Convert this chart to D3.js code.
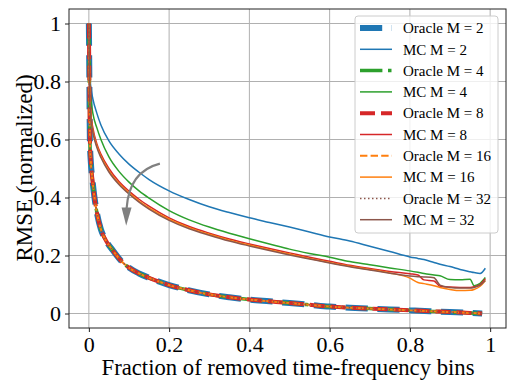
<!DOCTYPE html>
<html><head><meta charset="utf-8">
<script src="https://cdn.jsdelivr.net/npm/d3@7"></script>
<style>body{margin:0;background:#fff}svg{display:block}text{font-family:"Liberation Serif","Times New Roman",serif}</style>
</head><body>
<svg id="c" width="507" height="380"></svg>
<script>
const xTicks = [0, 0.2, 0.4, 0.6, 0.8, 1];
const xTickLabels = ["0", "0.2", "0.4", "0.6", "0.8", "1"];
const yTicks = [0, 0.2, 0.4, 0.6, 0.8, 1];
const yTickLabels = ["0", "0.2", "0.4", "0.6", "0.8", "1"];

const oracleX = [0,0.001,0.0025,0.005,0.009,0.014,0.019,0.03,0.04,0.06,0.08,0.1,0.125,0.15,0.2,0.25,0.3,0.35,0.4,0.45,0.5,0.55,0.6,0.65,0.7,0.75,0.8,0.85,0.9,0.95,0.98];
const oracleY = [1,0.85,0.6,0.52,0.46,0.4,0.355,0.29,0.258,0.217,0.182,0.158,0.138,0.123,0.098,0.08,0.066,0.056,0.048,0.042,0.036,0.03,0.024,0.02,0.017,0.014,0.011,0.008,0.005,0.002,0.0];

const mcX = [0,0.002,0.005,0.01,0.02,0.03,0.05,0.075,0.1,0.125,0.15,0.2,0.25,0.3,0.35,0.4,0.45,0.5,0.55,0.6,0.65,0.7,0.75,0.8,0.82,0.835,0.86,0.875,0.9,0.925,0.95,0.96,0.975,0.988];
const mcM2  = [1,0.83,0.78,0.74,0.69,0.65,0.595,0.55,0.515,0.487,0.462,0.423,0.393,0.368,0.348,0.33,0.314,0.298,0.281,0.264,0.25,0.232,0.214,0.195,0.19,0.186,0.176,0.17,0.162,0.152,0.144,0.141,0.138,0.156];
const mcM4  = [1,0.8,0.74,0.69,0.64,0.6,0.54,0.49,0.453,0.423,0.398,0.355,0.323,0.298,0.277,0.258,0.24,0.222,0.207,0.194,0.179,0.168,0.157,0.147,0.142,0.138,0.133,0.13,0.117,0.116,0.118,0.096,0.104,0.124];
const mcM8  = [1,0.76,0.69,0.64,0.585,0.55,0.5,0.455,0.422,0.394,0.37,0.33,0.3,0.277,0.257,0.24,0.224,0.209,0.194,0.18,0.166,0.155,0.145,0.137,0.133,0.116,0.112,0.094,0.091,0.09,0.09,0.092,0.1,0.12];
const mcM16 = [1,0.75,0.68,0.63,0.578,0.543,0.493,0.449,0.416,0.388,0.364,0.325,0.296,0.273,0.253,0.236,0.22,0.205,0.19,0.176,0.163,0.152,0.14,0.122,0.107,0.103,0.096,0.09,0.083,0.079,0.08,0.083,0.094,0.114];
const mcM32 = [1,0.75,0.675,0.625,0.572,0.538,0.488,0.445,0.412,0.384,0.36,0.321,0.292,0.27,0.25,0.233,0.217,0.202,0.188,0.174,0.161,0.15,0.139,0.129,0.127,0.126,0.123,0.098,0.09,0.088,0.088,0.09,0.098,0.114];

const seriesNames = ["Oracle M = 2","MC M = 2","Oracle M = 4","MC M = 4","Oracle M = 8","MC M = 8","Oracle M = 16","MC M = 16","Oracle M = 32","MC M = 32"];
const colors = ["#1f77b4","#1f77b4","#2ca02c","#2ca02c","#d62728","#d62728","#ff7f0e","#ff7f0e","#8c564b","#8c564b"];
const widths = [6,1.5,3.5,1.5,4,1.5,2,1.5,1.5,1.5];
const dashes = ["22.2,9.6",null,"22.4,5.6,3.5,5.6",null,"15,6",null,"7.4,3.2",null,"1.5,2.5",null];
const mcValues = [mcM2, mcM4, mcM8, mcM16, mcM32];

// annotation arrow in data coordinates: start, control, end, tip
const arrowPts = [[0.177,0.517],[0.1,0.49],[0.094,0.362],[0.093,0.303]];

const svg = d3.select("#c");
const L = 69, T = 9, W = 437, H = 319;
const x = d3.scaleLinear().domain([-0.0495, 1.0395]).range([L, L+W]);
const y = d3.scaleLinear().domain([-0.05, 1.05]).range([T+H, T]);

// grid
const g = svg.append("g");
g.selectAll(".gx").data(xTicks).join("line")
  .attr("x1", d=>x(d)).attr("x2", d=>x(d)).attr("y1", T).attr("y2", T+H)
  .attr("stroke", "#b0b0b0").attr("stroke-width", 1);
g.selectAll(".gy").data(yTicks).join("line")
  .attr("y1", d=>y(d)).attr("y2", d=>y(d)).attr("x1", L).attr("x2", L+W)
  .attr("stroke", "#b0b0b0").attr("stroke-width", 1);

// lines
const line = d3.line().x(d=>x(d[0])).y(d=>y(d[1])).curve(d3.curveMonotoneX);
const plot = svg.append("g");
for (let i = 0; i < 10; i++) {
  let pts;
  if (i % 2 === 0) pts = oracleX.map((v,k)=>[v, oracleY[k]]);
  else pts = mcX.map((v,k)=>[v, mcValues[(i-1)/2][k]]);
  const p = plot.append("path").datum(pts).attr("d", line)
    .attr("fill", "none").attr("stroke", colors[i]).attr("stroke-width", widths[i]);
  if (dashes[i]) p.attr("stroke-dasharray", dashes[i]);
}

// arrow annotation
const ap = arrowPts.map(p=>[x(p[0]), y(p[1])]);
svg.append("path")
  .attr("d", `M${ap[0][0]},${ap[0][1]} Q${ap[1][0]},${ap[1][1]} ${ap[2][0]},${ap[2][1]}`)
  .attr("fill","none").attr("stroke","#808080").attr("stroke-width",2.2);
svg.append("path")
  .attr("d", `M${ap[2][0]-5},${ap[2][1]-1} L${ap[2][0]+5},${ap[2][1]-1} L${ap[3][0]},${ap[3][1]} Z`)
  .attr("fill","#808080");

// axes
const xAxis = d3.axisBottom(x).tickValues(xTicks).tickFormat((d,i)=>xTickLabels[i]).tickSize(4).tickPadding(4);
const yAxis = d3.axisLeft(y).tickValues(yTicks).tickFormat((d,i)=>yTickLabels[i]).tickSize(4).tickPadding(4);
const xa = svg.append("g").attr("transform", `translate(0,${T+H})`).call(xAxis);
const ya = svg.append("g").attr("transform", `translate(${L},0)`).call(yAxis);
[xa, ya].forEach(a=>{
  a.attr("font-family", null);
  a.select(".domain").remove();
  a.selectAll("line").attr("stroke","#222");
  a.selectAll("text").attr("fill","#000").style("font-size","22px").style("font-family","'Liberation Serif',serif");
});
ya.selectAll("text").attr("dy","0.34em");

svg.append("rect").attr("x",L).attr("y",T).attr("width",W).attr("height",H)
  .attr("fill","none").attr("stroke","#222").attr("stroke-width",1);

svg.append("text").attr("x", 288).attr("y", 375).attr("text-anchor","middle")
  .style("font-size","22.7px").attr("fill","#000").text("Fraction of removed time-frequency bins");
svg.append("text").attr("transform","translate(32,168) rotate(-90)").attr("text-anchor","middle")
  .style("font-size","23px").attr("fill","#000").text("RMSE (normalized)");

// legend
const lg = svg.append("g");
lg.append("rect").attr("x",355).attr("y",16).attr("width",143).attr("height",217).attr("rx",3)
  .attr("fill","#fff").attr("fill-opacity",0.8).attr("stroke","#cccccc").attr("stroke-width",1);
seriesNames.forEach((name,i)=>{
  const cy = 28 + i*21.3;
  const l = lg.append("line").attr("x1",360).attr("x2",392).attr("y1",cy).attr("y2",cy)
    .attr("stroke",colors[i]).attr("stroke-width",widths[i]);
  if (dashes[i]) l.attr("stroke-dasharray",dashes[i]);
  lg.append("text").attr("x",403).attr("y",cy).attr("dy","0.35em")
    .style("font-size","15px").attr("fill","#000").text(name);
});
</script>
</body></html>
